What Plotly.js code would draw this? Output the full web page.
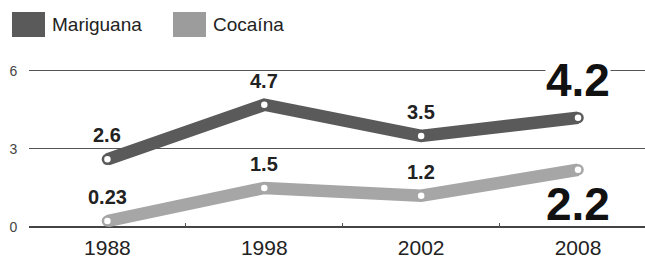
<!DOCTYPE html>
<html>
<head>
<meta charset="utf-8">
<script src="https://cdn.plot.ly/plotly-3.0.1.min.js"></script>
<style>html,body{margin:0;padding:0;background:#fff;}#chart{width:645px;height:262px;}</style>
</head>
<body>
<div id="chart"></div>
<script>
const years = ["1988", "1998", "2002", "2008"];
const mariguana = [2.6, 4.7, 3.5, 4.2];
const cocaina = [0.23, 1.5, 1.2, 2.2];
const seriesNames = ["Mariguana", "Cocaína"];
const yTicks = [0, 3, 6];

const SANS = "Liberation Sans, Arial, sans-serif";
const colDark = "#5a5a5a";
const colLight = "#a6a6a6";

function trace(vals, color, name) {
  return {
    type: "scatter", mode: "lines+markers", x: years, y: vals, name: name,
    line: {color: color, width: 12.5},
    marker: {size: 9, color: "#ffffff", line: {color: color, width: 2.5}},
    cliponaxis: false, hoverinfo: "skip"
  };
}

const annotations = [];
[[mariguana, true], [cocaina, false]].forEach(([vals, top]) => {
  vals.forEach((v, i) => {
    if (i < vals.length - 1) {
      annotations.push({x: i, y: v, xref: "x", yref: "y", text: String(v),
        showarrow: false, yshift: 24,
        font: {family: SANS, size: 20, color: "#222", weight: "bold"}});
    }
  });
  const last = vals.length - 1;
  annotations.push({x: last, y: vals[last], xref: "x", yref: "y",
    text: String(vals[last]), showarrow: false,
    yshift: top ? 38 : -34, borderpad: 0,
    bgcolor: top ? "#ffffff" : "rgba(0,0,0,0)",
    font: {family: SANS, size: 46, color: "#111", weight: "bold"}});
});

// legend (drawn with shapes + annotations)
const legendColors = [colDark, "#9c9c9c"];
const legendX = [12, 173];
const W = 616, L = 29, PT = 60, PH = 167;
const px = v => (v - L) / W;
const py = v => (PT + PH - v) / PH;
const shapes = [];
seriesNames.forEach((n, i) => {
  shapes.push({type: "rect", xref: "paper", yref: "paper",
    x0: px(legendX[i]), x1: px(legendX[i] + 33), y0: py(37), y1: py(12),
    fillcolor: legendColors[i], line: {width: 0}});
  annotations.push({xref: "paper", yref: "paper", x: px(legendX[i] + 38), y: py(24),
    xanchor: "left", yanchor: "middle", showarrow: false, text: n,
    font: {family: SANS, size: 19, color: "#222"}});
});

const layout = {
  width: 645, height: 262,
  margin: {l: L, r: 0, t: PT, b: 262 - PT - PH},
  paper_bgcolor: "#ffffff", plot_bgcolor: "#ffffff",
  showlegend: false,
  xaxis: {type: "category", range: [-0.5, 3.427], tickson: "boundaries",
    ticks: "inside", ticklen: 4, tickcolor: "#555", tickwidth: 1,
    ticklabelstandoff: 6,
    showgrid: false, showline: false, zeroline: false,
    tickfont: {family: SANS, size: 21, color: "#222"}, fixedrange: true},
  yaxis: {range: [0, 6.42], tickvals: yTicks, ticktext: yTicks.map(String),
    showgrid: true, gridcolor: "#555", gridwidth: 1,
    zeroline: true, zerolinecolor: "#444", zerolinewidth: 1.3,
    ticks: "outside", ticklen: 8, tickcolor: "rgba(0,0,0,0)",
    tickfont: {family: SANS, size: 14, color: "#444"}, fixedrange: true},
  annotations: annotations,
  shapes: shapes
};

Plotly.newPlot("chart", [trace(mariguana, colDark, seriesNames[0]), trace(cocaina, colLight, seriesNames[1])], layout, {displayModeBar: false, staticPlot: true});
</script>
</body>
</html>
